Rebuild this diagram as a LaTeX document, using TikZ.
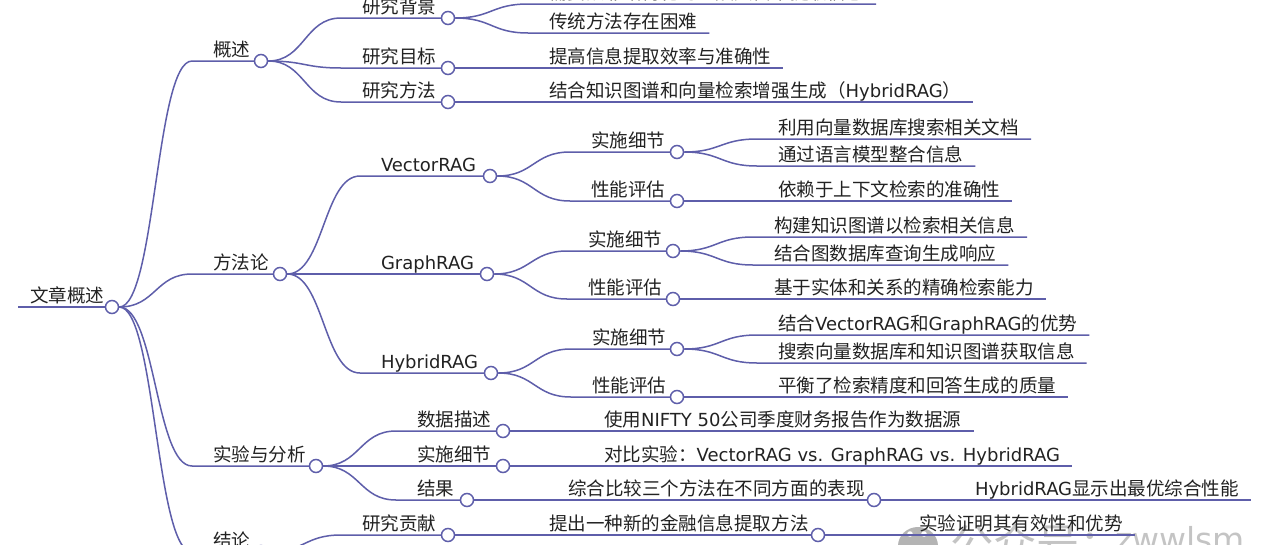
\documentclass[tikz,border=0pt]{standalone}
\usepackage{fontspec}
\setmainfont{DejaVu Sans}
\newfontfamily\cjkf{Noto Sans CJK SC}[Scale=1.03]
\usetikzlibrary{calc}
\definecolor{lc}{HTML}{5E5EAA}
\definecolor{txt}{HTML}{222222}
\definecolor{wm}{HTML}{C4C4C4}
\definecolor{wmi}{HTML}{B4B4B4}
\newcommand\C[1]{{\cjkf #1}}
\tikzset{
  link/.style={draw=lc, line width=1.5pt},
  dot/.style={circle, draw=lc, fill=white, line width=1.5pt, minimum size=13pt, inner sep=0pt},
  lab/.style={anchor=base west, inner sep=0pt, outer sep=0pt, text=txt, font=\fontsize{18}{22}\selectfont},
  wmark/.style={anchor=base west, inner sep=0pt, outer sep=0pt, text=wm},
}
% #1 name, #2 parent, #3 start x, #4 y, #5 text x, #6 circle x, #7 text
\newcommand\mmbranch[7]{%
  \coordinate (#1s) at (#3,#4);
  \coordinate (#1c) at (#6,#4);
  \coordinate (#1m) at ($(#2.east)!0.5!(#1s)$);
  \node[lab] (#1t) at (#5,#4-5) {#7};
  \draw[link] (#2.east) .. controls (#1m |- #2.east) and (#1m |- #1s) .. (#1s) -- (#1c);
  \node[dot] (#1) at (#1c) {};
}
% #1 name, #2 parent, #3 start x, #4 y, #5 text x, #6 text
\newcommand\mmleaf[6]{%
  \coordinate (#1s) at (#3,#4);
  \coordinate (#1m) at ($(#2.east)!0.5!(#1s)$);
  \node[lab] (#1t) at (#5,#4-5) {#6};
  \coordinate (#1e) at ($(#1t.base east)+(12,5)$);
  \draw[link] (#2.east) .. controls (#1m |- #2.east) and (#1m |- #1s) .. (#1s) -- (#1e);
}
\begin{document}
\begin{tikzpicture}[x=1pt, y=-1pt]
\useasboundingbox (0,0) rectangle (1280,544);
\fill[white] (0,0) rectangle (1280,544);
% watermark
\fill[wmi] (918,546) ellipse [x radius=20pt, y radius=19pt];
\fill[white] (910,534) circle [radius=2.8pt];
\fill[white] (924,534) circle [radius=2.8pt];
\node[wmark, font=\fontsize{42}{48}\selectfont\cjkf] (wma) at (950,560) {公众号：};
\node[wmark, font=\fontsize{33}{38}\selectfont] (wmb) at (1115,551) {zwwlsm};
% root
\coordinate (roots) at (18,307);
\coordinate (rootc) at (112,307);
\node[lab] (roott) at (30,302) {\C{文章概述}};
\draw[link] (roots) -- (rootc);
\node[dot] (root) at (rootc) {};
% level 1
\mmbranch{gs}{root}{192}{61}{213}{261}{\C{概述}}
\mmbranch{ff}{root}{192}{274}{213}{280}{\C{方法论}}
\mmbranch{sy}{root}{192}{466}{213}{316}{\C{实验与分析}}
\mmbranch{jl}{root}{192}{552}{213}{261}{\C{结论}}
% 概述
\mmbranch{bj}{gs}{341}{18}{362}{448}{\C{研究背景}}
\mmbranch{mb}{gs}{341}{68}{362}{448}{\C{研究目标}}
\mmbranch{ffa}{gs}{341}{102}{362}{448}{\C{研究方法}}
\mmleaf{bja}{bj}{528}{4}{549}{\C{需要从非结构化的金融文档中提取信息}}
\mmleaf{bjb}{bj}{528}{33}{549}{\C{传统方法存在困难}}
\mmleaf{mba}{mb}{528}{68}{549}{\C{提高信息提取效率与准确性}}
\mmleaf{ffaa}{ffa}{528}{102}{549}{\C{结合知识图谱和向量检索增强生成（}HybridRAG\C{）}}
% 方法论
\mmbranch{vr}{ff}{360}{176}{381}{490}{VectorRAG}
\mmbranch{gr}{ff}{360}{274}{381}{487}{GraphRAG}
\mmbranch{hr}{ff}{360}{373}{381}{491}{HybridRAG}
\mmbranch{vra}{vr}{570}{152}{591}{677}{\C{实施细节}}
\mmbranch{vrb}{vr}{570}{201}{591}{677}{\C{性能评估}}
\mmleaf{vraa}{vra}{757}{139}{778}{\C{利用向量数据库搜索相关文档}}
\mmleaf{vrab}{vra}{757}{166}{778}{\C{通过语言模型整合信息}}
\mmleaf{vrba}{vrb}{757}{201}{778}{\C{依赖于上下文检索的准确性}}
\mmbranch{gra}{gr}{567}{251}{588}{673}{\C{实施细节}}
\mmbranch{grb}{gr}{567}{299}{588}{673}{\C{性能评估}}
\mmleaf{graa}{gra}{753}{237}{774}{\C{构建知识图谱以检索相关信息}}
\mmleaf{grab}{gra}{753}{265}{774}{\C{结合图数据库查询生成响应}}
\mmleaf{grba}{grb}{753}{299}{774}{\C{基于实体和关系的精确检索能力}}
\mmbranch{hra}{hr}{571}{349}{592}{677}{\C{实施细节}}
\mmbranch{hrb}{hr}{571}{397}{592}{677}{\C{性能评估}}
\mmleaf{hraa}{hra}{757}{335}{778}{\C{结合}VectorRAG\C{和}GraphRAG\C{的优势}}
\mmleaf{hrab}{hra}{757}{363}{778}{\C{搜索向量数据库和知识图谱获取信息}}
\mmleaf{hrba}{hrb}{757}{397}{778}{\C{平衡了检索精度和回答生成的质量}}
% 实验与分析
\mmbranch{sja}{sy}{396}{431}{417}{503}{\C{数据描述}}
\mmbranch{sjb}{sy}{396}{466}{417}{503}{\C{实施细节}}
\mmbranch{sjc}{sy}{396}{500}{417}{467}{\C{结果}}
\mmleaf{sjaa}{sja}{583}{431}{604}{\C{使用}NIFTY 50\C{公司季度财务报告作为数据源}}
\mmleaf{sjba}{sjb}{583}{466}{604}{\C{对比实验：}VectorRAG vs. GraphRAG vs. HybridRAG}
\mmbranch{sjca}{sjc}{547}{500}{568}{874}{\C{综合比较三个方法在不同方面的表现}}
\mmleaf{sjcaa}{sjca}{954}{500}{975}{HybridRAG\C{显示出最优综合性能}}
% 结论
\mmbranch{gx}{jl}{341}{535}{362}{448}{\C{研究贡献}}
\mmbranch{gxa}{gx}{528}{535}{549}{818}{\C{提出一种新的金融信息提取方法}}
\mmleaf{gxaa}{gxa}{898}{535}{919}{\C{实验证明其有效性和优势}}
\end{tikzpicture}
\end{document}
